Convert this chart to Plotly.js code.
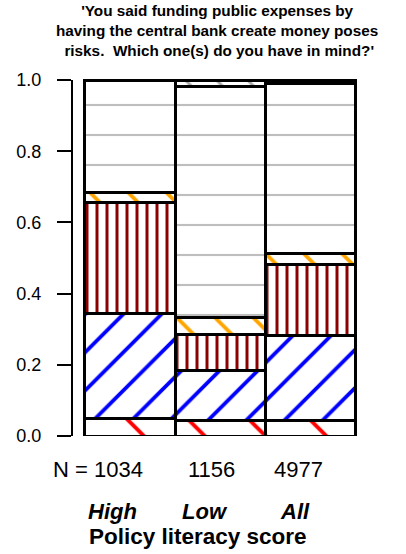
<!DOCTYPE html>
<html><head><meta charset="utf-8">
<script src="https://cdn.plot.ly/plotly-3.0.1.min.js"></script>
<style>html,body{margin:0;padding:0;background:#fff;}#chart{width:406px;height:554px;}</style>
</head><body><div id="chart"></div>
<script>
// Data (proportions of each risk category, stacked from bottom)
const groups = ["High", "Low", "All"];
const sampleSizes = [1034, 1156, 4977];
const riskRed = [0.048, 0.044, 0.043];
const riskBlue = [0.297, 0.140, 0.238];
const riskDarkRed = [0.312, 0.101, 0.201];
const riskOrange = [0.026, 0.049, 0.032];
const riskGreyLines = [0.317, 0.648, 0.476];
const riskGreyDiag = [0.000, 0.018, 0.010];
const yTicks = [0, 0.2, 0.4, 0.6, 0.8, 1.0];
const titleLines = [
  "'You said funding public expenses by",
  "having the central bank create money poses",
  " risks.  Which one(s) do you have in mind?'"
];
const xTitle = "Policy literacy score";

const FONT = "Liberation Sans, Arial, Helvetica, sans-serif";
const xs = [0, 1, 2];

function mk(vals, shape, fg, size, sol) {
  return {
    type: "bar", x: xs, y: vals, width: 1, cliponaxis: false,
    hoverinfo: "skip", showlegend: false,
    marker: {
      color: "white",
      line: {color: "black", width: 3},
      pattern: {shape: shape, fgcolor: fg, fgopacity: 1, bgcolor: "white", size: size, solidity: sol, fillmode: "overlay"}
    }
  };
}

const data = [
  mk(riskRed, "\\", "#FF0000", 43, 0.09),
  mk(riskBlue, "/", "#0000FF", 27, 0.14),
  mk(riskDarkRed, "|", "#8B0000", 10, 0.3),
  mk(riskOrange, "\\", "#FFA500", 27, 0.14),
  mk(riskGreyLines, "-", "#BEBEBE", 30, 0.07),
  mk(riskGreyDiag, "\\", "#A8A8A8", 22, 0.13)
];

const L = 72, T = 60, B0 = 436, TOP1 = 80, W = 406, H = 554;
const yMax = (B0 - T) / (B0 - TOP1);
const py = p => (B0 - p) / (B0 - T);
const px = p => (p - L) / (358 - L);

const annotations = [];
annotations.push({
  text: titleLines.join("<br>"), xref: "paper", yref: "paper", x: px(217), y: py(30),
  xanchor: "center", yanchor: "middle", align: "center", showarrow: false,
  font: {family: FONT, size: 15.3, color: "black", weight: "bold"}
});
const nX = [-0.358, 0.898, 1.866];
sampleSizes.forEach((n, i) => annotations.push({
  text: (i === 0 ? "N = " : "") + n, xref: "x", yref: "paper", x: nX[i], y: py(469),
  xanchor: "center", yanchor: "middle", showarrow: false,
  font: {family: FONT, size: 22, color: "black"}
}));
const gX = [-0.192, 0.831, 1.827];
groups.forEach((g, i) => annotations.push({
  text: g, xref: "x", yref: "paper", x: gX[i], y: py(511),
  xanchor: "center", yanchor: "middle", showarrow: false,
  font: {family: FONT, size: 22, color: "black", weight: "bold", style: "italic"}
}));
annotations.push({
  text: xTitle, xref: "x", yref: "paper", x: 0.754, y: py(536),
  xanchor: "center", yanchor: "middle", showarrow: false,
  font: {family: FONT, size: 22.5, color: "black", weight: "bold"}
});

const layout = {
  width: W, height: H,
  margin: {l: L, r: W - 358, t: T, b: H - B0, pad: 0},
  paper_bgcolor: "white", plot_bgcolor: "white",
  barmode: "stack", bargap: 0,
  font: {family: FONT, color: "black"},
  xaxis: {visible: false, range: [-0.6405, 2.524], fixedrange: true},
  yaxis: {
    range: [0, yMax], tickvals: yTicks, tickformat: ".1f",
    ticks: "outside", ticklen: 14, tickwidth: 2, tickcolor: "black",
    showline: false, showgrid: false, zeroline: false, ticklabelstandoff: 12,
    tickfont: {family: FONT, size: 18, color: "black"}, fixedrange: true
  },
  shapes: [{
    type: "line", xref: "paper", yref: "y", x0: 0, x1: 0,
    y0: yTicks[0], y1: yTicks[yTicks.length - 1],
    line: {color: "black", width: 2}
  }],
  annotations: annotations
};

Plotly.newPlot("chart", data, layout, {staticPlot: true, displayModeBar: false});
</script>
</body></html>
